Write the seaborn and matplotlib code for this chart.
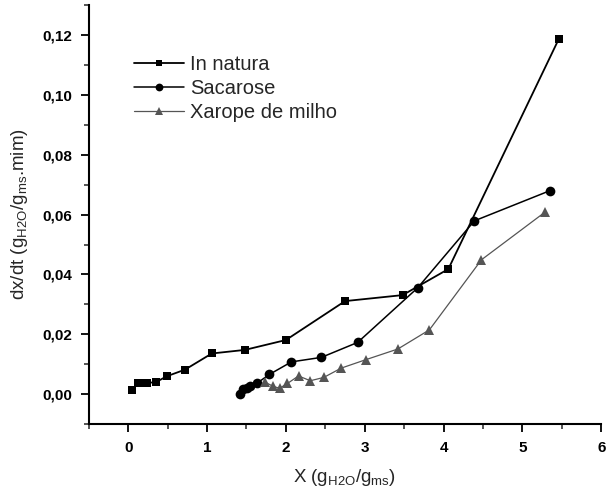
import pandas as pd
import numpy as np
import matplotlib.pyplot as plt
import seaborn as sns
from matplotlib.ticker import FuncFormatter, MultipleLocator

# dados
x_natura = [0.05, 0.12, 0.17, 0.24, 0.35, 0.49, 0.72, 1.06, 1.48, 2.00, 2.75, 3.48, 4.06, 5.46]
y_natura = [0.0013, 0.0038, 0.0038, 0.0038, 0.0040, 0.0060, 0.0082, 0.0136, 0.0148, 0.0181, 0.0311, 0.0331, 0.0418, 0.1186]

x_sacarose = [1.42, 1.46, 1.51, 1.55, 1.63, 1.79, 2.07, 2.45, 2.91, 3.67, 4.39, 5.35]
y_sacarose = [0.0000, 0.0017, 0.0022, 0.0026, 0.0036, 0.0066, 0.0108, 0.0123, 0.0173, 0.0355, 0.0579, 0.0680]

x_xarope = [1.73, 1.84, 1.92, 2.02, 2.16, 2.31, 2.48, 2.70, 3.01, 3.42, 3.82, 4.48, 5.29]
y_xarope = [0.0041, 0.0026, 0.0020, 0.0036, 0.0061, 0.0045, 0.0056, 0.0087, 0.0115, 0.0151, 0.0215, 0.0449, 0.0609]

sns.set_style("ticks")
plt.rcParams['font.family'] = ['Liberation Sans', 'DejaVu Sans']

fig = plt.figure(figsize=(6.08, 4.99), dpi=100)
ax = fig.add_axes([0.146, 0.150, 0.843, 0.840])

sns.lineplot(x=x_natura, y=y_natura, ax=ax, sort=False, color='black', lw=1.3,
             marker='s', markersize=6, markeredgewidth=0, label='In natura')
sns.lineplot(x=x_sacarose, y=y_sacarose, ax=ax, sort=False, color='black', lw=1.1,
             marker='o', markersize=7, markeredgewidth=0, label='Sacarose')
sns.lineplot(x=x_xarope, y=y_xarope, ax=ax, sort=False, color='#555555', lw=0.9,
             marker='^', markersize=7, markeredgewidth=0, label='Xarope de milho')

ax.set_xlim(-0.5, 6)
ax.set_ylim(-0.01, 0.13)
ax.xaxis.set_major_locator(MultipleLocator(1))
ax.xaxis.set_minor_locator(MultipleLocator(0.5))
ax.yaxis.set_major_locator(MultipleLocator(0.02))
ax.yaxis.set_minor_locator(MultipleLocator(0.01))
ax.yaxis.set_major_formatter(FuncFormatter(lambda v, p: f"{v:.2f}".replace('.', ',')))
ax.xaxis.set_major_formatter(FuncFormatter(lambda v, p: f"{v:.0f}"))
ax.set_ylim(-0.01, 0.13)

ax.tick_params(which='major', direction='out', length=6, width=1.3, labelsize=11, colors='black', pad=6)
ax.tick_params(which='minor', direction='out', length=3.5, width=1.1)
for lab in ax.get_xticklabels() + ax.get_yticklabels():
    lab.set_fontweight('bold')
for s in ['left', 'bottom']:
    ax.spines[s].set_linewidth(1.5)
    ax.spines[s].set_color('black')
sns.despine(ax=ax)

ax.set_xlabel(r"X (g$_{\mathregular{H2O}}$/g$_{\mathregular{ms}}$)", fontsize=13.5, labelpad=9)
ax.set_ylabel(r"dx/dt (g$_{\mathregular{H2O}}$/g$_{\mathregular{ms}}$.mim)", fontsize=13.5, labelpad=9)

leg = ax.legend(loc='upper left', bbox_to_anchor=(0.06, 0.915), frameon=False, fontsize=14.5,
                handlelength=2.5, handletextpad=0.3, labelspacing=0.25, borderpad=0.2,
                markerscale=0.8)

plt.savefig('out.png', dpi=100)
